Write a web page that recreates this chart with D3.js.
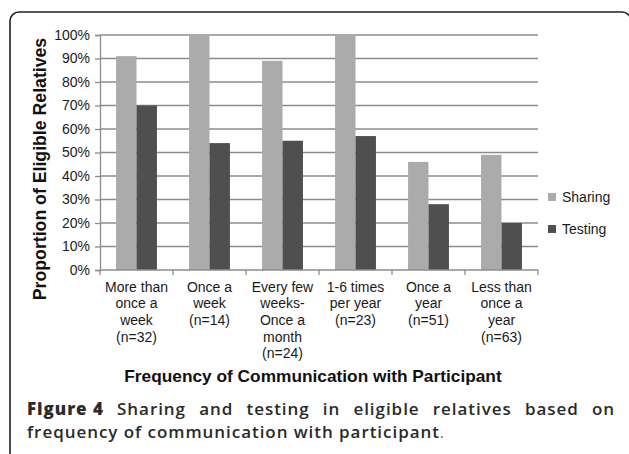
<!DOCTYPE html>
<html>
<head>
<meta charset="utf-8">
<script src="https://cdn.jsdelivr.net/npm/d3@7"></script>
<style>
  html, body { margin: 0; padding: 0; background: #fff; }
  svg { display: block; }
</style>
</head>
<body>
<svg id="chart" width="629" height="454"></svg>
<script>
// ---- data ----
const categories = [
  ["More than", "once a", "week", "(n=32)"],
  ["Once a", "week", "(n=14)"],
  ["Every few", "weeks-", "Once a", "month", "(n=24)"],
  ["1-6 times", "per year", "(n=23)"],
  ["Once a", "year", "(n=51)"],
  ["Less than", "once a", "year", "(n=63)"]
];
const seriesNames = ["Sharing", "Testing"];
const sharing = [91, 100, 89, 100, 46, 49];
const testing = [70, 54, 55, 57, 28, 20];
const yTicks = [0, 10, 20, 30, 40, 50, 60, 70, 80, 90, 100];
const yTitle = "Proportion of Eligible Relatives";
const xTitle = "Frequency of Communication with Participant";
const captionBold = "Figure 4";
const captionLine1 = "Sharing and testing in eligible relatives based on";
const captionLine2 = "frequency of communication with participant";

// ---- drawing ----
const svg = d3.select("#chart");
const colors = { Sharing: "#ababab", Testing: "#4f4f4f" };
const gridColor = "#8c8c8c";
const font = "'Liberation Sans', Arial, sans-serif";

// frame
svg.append("rect")
  .attr("x", 10).attr("y", 12).attr("width", 621).attr("height", 470)
  .attr("rx", 9).attr("ry", 9)
  .attr("fill", "none").attr("stroke", "#222").attr("stroke-width", 1.6);

const pLeft = 100, pRight = 538, pTop = 35, pBottom = 270;
const idx = categories.map((d, i) => i);
const x = d3.scaleBand().domain(idx).range([pLeft, pRight]).paddingInner(0).paddingOuter(0);
const y = d3.scaleLinear().domain([0, 100]).range([pBottom, pTop]);
const barW = x.bandwidth() * 0.28;
const xs = d3.scaleBand().domain(seriesNames)
  .range([x.bandwidth() / 2 - barW, x.bandwidth() / 2 + barW]);

// gridlines
svg.append("g").selectAll("line").data(yTicks.filter(t => t > 0)).join("line")
  .attr("x1", pLeft).attr("x2", pRight)
  .attr("y1", d => y(d)).attr("y2", d => y(d))
  .attr("stroke", gridColor).attr("stroke-width", 1.3);

// y axis
const yAxis = svg.append("g").attr("transform", `translate(${pLeft},0)`)
  .call(d3.axisLeft(y).tickValues(yTicks).tickFormat(d => d + "%").tickSize(5).tickPadding(5));
yAxis.select(".domain").attr("stroke", gridColor).attr("stroke-width", 1.3);
yAxis.selectAll(".tick line").attr("stroke", gridColor).attr("stroke-width", 1.3);
yAxis.selectAll(".tick text").attr("font-family", font).attr("font-size", 14).attr("fill", "#1a1a1a");

// bars
const data = idx.map(i => ({ i, Sharing: sharing[i], Testing: testing[i] }));
const groups = svg.append("g").selectAll("g").data(data).join("g")
  .attr("transform", d => `translate(${x(d.i)},0)`);
groups.selectAll("rect").data(d => seriesNames.map(s => ({ s, v: d[s] }))).join("rect")
  .attr("x", d => xs(d.s)).attr("width", xs.bandwidth())
  .attr("y", d => y(d.v)).attr("height", d => y(0) - y(d.v))
  .attr("fill", d => colors[d.s]);

// x axis
const xAxis = svg.append("g").attr("transform", `translate(0,${pBottom})`);
xAxis.append("line").attr("x1", pLeft).attr("x2", pRight)
  .attr("stroke", gridColor).attr("stroke-width", 1.3);
xAxis.selectAll("line.tk").data(d3.range(categories.length + 1)).join("line")
  .attr("class", "tk")
  .attr("x1", d => pLeft + d * x.step()).attr("x2", d => pLeft + d * x.step())
  .attr("y1", 0).attr("y2", 5)
  .attr("stroke", gridColor).attr("stroke-width", 1.3);

// x labels
const lbl = svg.append("g").selectAll("text").data(categories).join("text")
  .attr("x", (d, i) => x(i) + x.bandwidth() / 2)
  .attr("y", 291.7)
  .attr("text-anchor", "middle")
  .attr("font-family", font).attr("font-size", 14).attr("fill", "#1a1a1a");
lbl.selectAll("tspan").data(d => d).join("tspan")
  .attr("x", function () { return this.parentNode.getAttribute("x"); })
  .attr("dy", (d, j) => j === 0 ? 0 : 16.67)
  .text(d => d);

// axis titles
svg.append("text")
  .attr("transform", "translate(46,169) rotate(-90)")
  .attr("text-anchor", "middle")
  .attr("font-family", font).attr("font-weight", "bold").attr("font-size", 17.7)
  .attr("fill", "#111").text(yTitle);
svg.append("text")
  .attr("x", 313).attr("y", 381.5)
  .attr("text-anchor", "middle")
  .attr("font-family", font).attr("font-weight", "bold").attr("font-size", 17.3)
  .attr("fill", "#111").text(xTitle);

// legend
const leg = svg.append("g").selectAll("g").data(seriesNames).join("g")
  .attr("transform", (d, i) => `translate(548,${197 + i * 32})`);
leg.append("rect").attr("x", 0).attr("y", -4).attr("width", 8).attr("height", 8)
  .attr("fill", d => colors[d]);
leg.append("text").attr("x", 14).attr("y", 5)
  .attr("font-family", font).attr("font-size", 14).attr("fill", "#1a1a1a")
  .text(d => d);

// caption: one text element, first line justified word by word
const capFont = "'Open Sans', 'Noto Sans', sans-serif";
const capSize = 17, capLS = 0.95;
const capLeft = 27, capRight = 615;
const cap = svg.append("text")
  .attr("font-family", capFont).attr("font-size", capSize)
  .attr("letter-spacing", capLS)
  .attr("fill", "#2a2a2a");
const words1 = [{ t: captionBold, b: true }].concat(captionLine1.split(" ").map(t => ({ t, b: false })));
const w1 = cap.selectAll("tspan.w").data(words1).join("tspan")
  .attr("class", "w")
  .attr("y", 414.5)
  .attr("font-weight", d => d.b ? 800 : 600)
  .text(d => d.t);
const widths = [];
w1.each(function () { widths.push(this.getComputedTextLength()); });
const gap = (capRight - capLeft - d3.sum(widths)) / (words1.length - 1);
let cx = capLeft;
w1.attr("x", (d, i) => { const v = cx; cx += widths[i] + gap; return v; });
cap.append("tspan").attr("x", capLeft).attr("y", 438)
  .attr("font-weight", 600).text(captionLine2);
cap.append("tspan").attr("font-weight", 400).attr("font-size", 14).attr("fill", "#555").text(".");
</script>
</body>
</html>
